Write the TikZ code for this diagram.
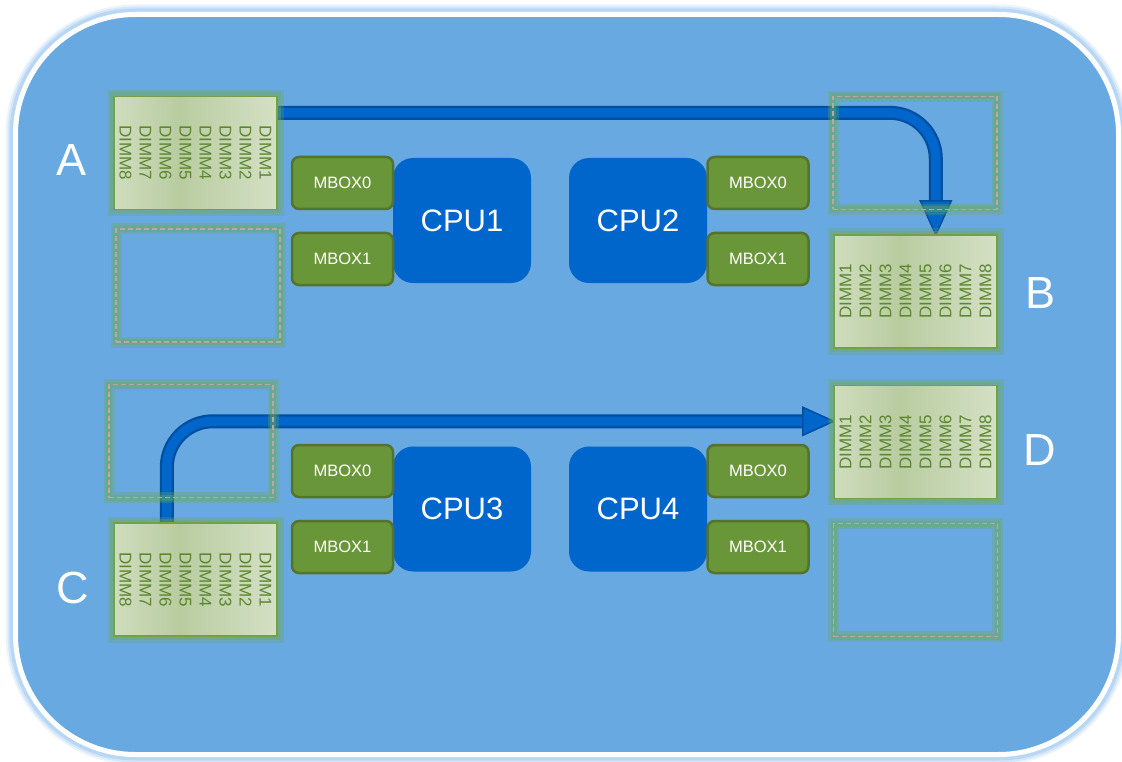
\documentclass[tikz,border=0pt]{standalone}
\usepackage{fontspec}
\setmainfont{Liberation Sans}
\usetikzlibrary{calc}
\definecolor{bgblue}{RGB}{103,169,224}
\definecolor{glowblue}{RGB}{120,178,234}
\definecolor{cpublue}{RGB}{0,102,204}
\definecolor{arrowdark}{RGB}{0,78,160}
\definecolor{mboxfill}{RGB}{106,150,58}
\definecolor{mboxline}{RGB}{84,116,44}
\definecolor{dimmlight}{RGB}{236,241,228}
\definecolor{dimmdark}{RGB}{184,204,160}
\definecolor{dimmline}{RGB}{118,160,68}
\definecolor{dimmtext}{RGB}{92,134,48}
\definecolor{glowgreen}{RGB}{112,168,80}
\definecolor{dashc}{RGB}{186,168,166}
\pgfdeclarehorizontalshading{dimmshade}{100bp}{color(0bp)=(dimmlight); color(45bp)=(dimmdark); color(100bp)=(dimmlight)}
\tikzset{
  frame/.style={fill=bgblue, draw=white, line width=5pt, rounded corners=120pt,
    preaction={draw=glowblue, line width=20pt, opacity=0.15},
    preaction={draw=glowblue, line width=16pt, opacity=0.2},
    preaction={draw=glowblue, line width=12pt, opacity=0.3}},
  dimmbox/.style={minimum width=163pt, minimum height=113pt, inner sep=0pt,
    shading=dimmshade, draw=dimmline, line width=1.5pt,
    preaction={draw=glowgreen, line width=13pt, opacity=0.25},
    preaction={draw=glowgreen, line width=8pt, opacity=0.35}},
  dimmtxt/.style={align=center, inner sep=0pt, text=dimmtext,
    font=\fontsize{17}{20}\selectfont},
  emptybox/.style={minimum width=164pt, minimum height=113pt, inner sep=0pt,
    draw=dashc, line width=1.5pt, dash pattern=on 5pt off 3pt,
    preaction={draw=glowgreen, line width=11pt, opacity=0.3, solid},
    preaction={draw=glowgreen, line width=6pt, opacity=0.35, solid}},
  mbox/.style={minimum width=101pt, minimum height=52pt, inner sep=0pt,
    rounded corners=7pt, fill=mboxfill, draw=mboxline, line width=2.5pt,
    text=white, font=\fontsize{16.5}{19}\selectfont},
  cpu/.style={minimum width=138pt, minimum height=125pt, inner sep=0pt,
    rounded corners=20pt, fill=cpublue, text=white,
    font=\fontsize{31}{36}\selectfont},
  letter/.style={text=white, inner sep=0pt, font=\fontsize{45}{52}\selectfont},
  bodyout/.style={draw=arrowdark, line width=14pt, rounded corners=46pt},
  bodyin/.style={draw=cpublue, line width=9.5pt, rounded corners=46pt},
  head/.style={fill=cpublue, draw=arrowdark, line width=1.5pt, line join=miter}
}
\begin{document}
\begin{tikzpicture}[x=1pt, y=-1pt]
\useasboundingbox (0,0) rectangle (1122,762);
% frame
\path[frame] (15.5,14.5) rectangle (1118.5,754.5);

% slot geometry for the four populated DIMM groups
\path (195.5,153) node[minimum width=163pt, minimum height=113pt, inner sep=0pt] (A) {};
\path (915.5,291.5) node[minimum width=163pt, minimum height=113pt, inner sep=0pt] (B) {};
\path (195.5,579.5) node[minimum width=163pt, minimum height=113pt, inner sep=0pt] (C) {};
\path (915.5,442) node[minimum width=163pt, minimum height=113pt, inner sep=0pt] (D) {};

% arrows
\coordinate (a1s) at ($(A.north east)+(0,16.5)$);
\coordinate (a1t) at ($(B.north west)+(102,0)$);
\coordinate (c1s) at ($(C.north west)+(53,0)$);
\coordinate (c1t) at ($(D.north west)+(0,36)$);
\draw[bodyout] (a1s) -- (a1s -| a1t) -- ($(a1t)+(0,-32)$);
\draw[bodyin] (a1s) -- (a1s -| a1t) -- ($(a1t)+(0,-32)$);
\draw[head] ($(a1t)+(-15.5,-34)$) -- ($(a1t)+(15.5,-34)$) -- (a1t) -- cycle;
\draw[bodyout] (c1s) -- (c1s |- c1t) -- ($(c1t)+(-29,0)$);
\draw[bodyin] (c1s) -- (c1s |- c1t) -- ($(c1t)+(-29,0)$);
\draw[head] ($(c1t)+(-31,-14)$) -- ($(c1t)+(-31,14)$) -- (c1t) -- cycle;

% empty dashed slots
\node[emptybox] (Ae) at (198,285.5) {};
\node[emptybox] (Be) at (915,153) {};
\node[emptybox] (Ce) at (191,441) {};
\node[emptybox] (De) at (915.5,580) {};

% DIMM boxes
\node[dimmbox] (Ab) at (A.center) {};
\node[dimmbox] (Bb) at (B.center) {};
\node[dimmbox] (Cb) at (C.center) {};
\node[dimmbox] (Db) at (D.center) {};
\node[dimmtxt, rotate=-90] (At) at (A.center) {DIMM1\\DIMM2\\DIMM3\\DIMM4\\DIMM5\\DIMM6\\DIMM7\\DIMM8};
\node[dimmtxt, rotate=90] (Bt) at (B.center) {DIMM1\\DIMM2\\DIMM3\\DIMM4\\DIMM5\\DIMM6\\DIMM7\\DIMM8};
\node[dimmtxt, rotate=-90] (Ct) at (C.center) {DIMM1\\DIMM2\\DIMM3\\DIMM4\\DIMM5\\DIMM6\\DIMM7\\DIMM8};
\node[dimmtxt, rotate=90] (Dt) at (D.center) {DIMM1\\DIMM2\\DIMM3\\DIMM4\\DIMM5\\DIMM6\\DIMM7\\DIMM8};

% CPUs
\node[cpu] (cpu1) at (462,220.5) {CPU1};
\node[cpu] (cpu2) at (638,220.5) {CPU2};
\node[cpu] (cpu3) at (462,509) {CPU3};
\node[cpu] (cpu4) at (638,509) {CPU4};

% MBOXes
\node[mbox] (m10) at (342.5,183) {MBOX0};
\node[mbox] (m11) at (342.5,259) {MBOX1};
\node[mbox] (m20) at (758,183) {MBOX0};
\node[mbox] (m21) at (758,259) {MBOX1};
\node[mbox] (m30) at (342.5,471) {MBOX0};
\node[mbox] (m31) at (342.5,547) {MBOX1};
\node[mbox] (m40) at (758,471) {MBOX0};
\node[mbox] (m41) at (758,547) {MBOX1};

% letters
\node[letter] (LA) at (72,160) {A};
\node[letter] (LB) at (1040,293) {B};
\node[letter] (LC) at (73,588) {C};
\node[letter] (LD) at (1040,450) {D};
\end{tikzpicture}
\end{document}
